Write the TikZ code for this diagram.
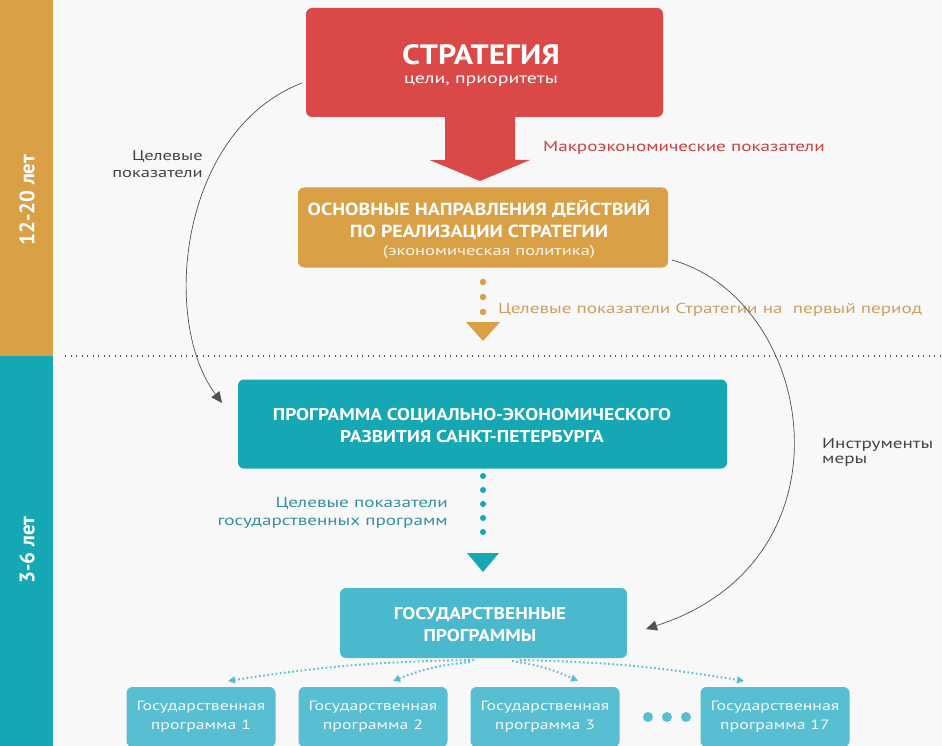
\documentclass[tikz,border=0pt]{standalone}
\usepackage{fontspec}
\setmainfont{PT Sans}
\newfontfamily\lblfont[FakeStretch=1.32]{PT Sans}
\newfontfamily\hdfont[FakeStretch=1.14]{PT Sans}
\usetikzlibrary{arrows.meta,calc}
\definecolor{bgc}{HTML}{F8F8F8}
\definecolor{ored}{HTML}{DA4848}
\definecolor{redtxt}{HTML}{C9433F}
\definecolor{oorange}{HTML}{D9A045}
\definecolor{orangetxt}{HTML}{CCA064}
\definecolor{oteal}{HTML}{16A7B4}
\definecolor{lteal}{HTML}{4AB9CE}
\definecolor{steal}{HTML}{58BED2}
\definecolor{tealtxt}{HTML}{3690A2}
\definecolor{greyline}{HTML}{505050}
\definecolor{greytxt}{HTML}{444444}
\tikzset{
  bigbox/.style={rounded corners=6pt, inner sep=0pt, align=center, text=white},
  smallbox/.style={rounded corners=6pt, fill=steal, inner sep=0pt, align=center, text=white!92!steal,
     minimum width=149pt, minimum height=60pt, font=\lblfont\fontsize{13.5}{19}\selectfont},
  curvearrow/.style={draw=greyline, line width=0.7pt, -{Triangle[length=11pt,width=10pt]}},
  bigdots/.style={line width=6.5pt, line cap=round, dash pattern=on 0pt off 15pt},
  smalldots/.style={draw=steal, line width=2pt, dash pattern=on 1.6pt off 2.6pt, -{Triangle[length=7pt,width=7pt]}},
  label/.style={inner sep=0pt, font=\lblfont\fontsize{14.5}{17.5}\selectfont},
  headtext/.style={text=white, align=center, inner sep=0pt, font=\hdfont\bfseries\fontsize{17}{22}\selectfont}
}
\begin{document}
\begin{tikzpicture}[x=1pt,y=-1pt]
\useasboundingbox (0,0) rectangle (942,746);
\fill[bgc] (0,0) rectangle (942,746);
% side bands
\fill[oorange] (0,0) rectangle (53,356);
\fill[oteal] (0,356) rectangle (53,746);
\node[rotate=90, text=white, font=\fontsize{21}{21}\selectfont\bfseries] (yrs1) at (27,200) {12-20 лет};
\node[rotate=90, text=white, font=\fontsize{21}{21}\selectfont\bfseries] (yrs2) at (27,550) {3-6 лет};
% separator
\coordinate (sepL) at (65,356);
\coordinate (sepR) at (942,356);
\draw[greyline, line width=1.3pt, dash pattern=on 1.3pt off 4.2pt] (sepL) -- (sepR);

% red box
\node[bigbox, fill=ored, minimum width=357pt, minimum height=109pt] (strat) at (484.5,62.5) {};
\node[headtext, font=\hdfont\bfseries\fontsize{28}{28}\selectfont] (stratT) at (481,55) {СТРАТЕГИЯ};
\node[label, text=white, font=\lblfont\fontsize{15}{15}\selectfont] (stratS) at (481,81) {цели, приоритеты};
% big red arrow
\fill[ored] ($(strat.south)+(-39.5,-2)$) -- ++(0,45) -- ++(-15,0) -- (480,181) -- (530,160) -- (515,160) -- (515,115) -- cycle;
\node[label, text=redtxt, anchor=west] (macro) at (543,148) {Макроэкономические показатели};

% orange box
\node[bigbox, fill=oorange, minimum width=370pt, minimum height=80pt] (onap) at (483,227.5) {};
\node[headtext, font=\hdfont\bfseries\fontsize{17.5}{22}\selectfont] (onapT) at (479,219.5) {ОСНОВНЫЕ НАПРАВЛЕНИЯ ДЕЙСТВИЙ\\ПО РЕАЛИЗАЦИИ СТРАТЕГИИ};
\node[label, text=white!92!oorange, font=\lblfont\fontsize{14}{14}\selectfont] (onapS) at (489,252) {(экономическая политика)};
% orange dotted arrow
\coordinate (od1) at (483,282);
\coordinate (od2) at (483,314);
\draw[oorange, bigdots] (od1) -- (od2);
\fill[oorange] (466,322) -- (500,322) -- (483,341) -- cycle;
\node[label, text=orangetxt, anchor=west] (first) at (498,310) {Целевые показатели Стратегии на\ \ первый период};

% teal box
\node[bigbox, fill=oteal, minimum width=489pt, minimum height=89pt] (prog) at (482.5,424) {};
\node[headtext] (progT) at (472,426) {ПРОГРАММА СОЦИАЛЬНО-ЭКОНОМИЧЕСКОГО\\РАЗВИТИЯ САНКТ-ПЕТЕРБУРГА};
% teal dotted arrow
\coordinate (td1) at (483,476);
\coordinate (td2) at (483,546);
\draw[oteal, line width=6pt, line cap=round, dash pattern=on 0pt off 14pt] (td1) -- (td2);
\fill[oteal] (467,553) -- (499,553) -- (483,572) -- cycle;
\node[label, text=tealtxt, align=right, anchor=east] (gpind) at (448,513) {Целевые показатели\\государственных программ};

% GP box
\node[bigbox, fill=lteal, minimum width=287pt, minimum height=70pt] (gp) at (483.5,623) {};
\node[headtext] (gpT) at (480,625) {ГОСУДАРСТВЕННЫЕ\\ПРОГРАММЫ};

% small boxes
\node[smallbox] (g1) at (201,717) {Государственная\\программа 1};
\node[smallbox] (g2) at (373,717) {Государственная\\программа 2};
\node[smallbox] (g3) at (545,717) {Государственная\\программа 3};
\node[smallbox] (g17) at (775,717) {Государственная\\программа 17};
\foreach \xx in {648,667,686} \fill[steal] (\xx,717) circle (5pt);

% small dotted connectors
\coordinate (s1) at (474,660);
\coordinate (s2) at (470,662);
\coordinate (s3) at (512,661);
\coordinate (s4) at (520,660);
\coordinate (e1) at (228,681);
\coordinate (e2) at (393,681);
\coordinate (e3) at (578,681);
\coordinate (e4) at (744,681);
\draw[smalldots] (s1) to[bend right=4] (e1);
\draw[smalldots] (s2) to[bend right=8] (e2);
\draw[smalldots] (s3) to[bend left=8] (e3);
\draw[smalldots] (s4) to[bend left=4] (e4);

% curved grey arrows
\coordinate (cl0) at (302,83);
\coordinate (cl1) at (222,403);
\draw[curvearrow] (cl0) .. controls (180,130) and (160,320) .. (cl1);
\node[label, text=greytxt, align=right, anchor=east, font=\lblfont\fontsize{14}{17}\selectfont] (celev) at (203,164) {Целевые\\показатели};

\coordinate (cr0) at (672,260);
\coordinate (cr1) at (646,629);
\draw[curvearrow] (cr0) .. controls (815,300) and (860,560) .. (cr1);
\node[label, text=greytxt, align=left, anchor=west, font=\lblfont\fontsize{14.5}{15}\selectfont] (instr) at (822,452) {Инструменты\\меры};
\end{tikzpicture}
\end{document}
